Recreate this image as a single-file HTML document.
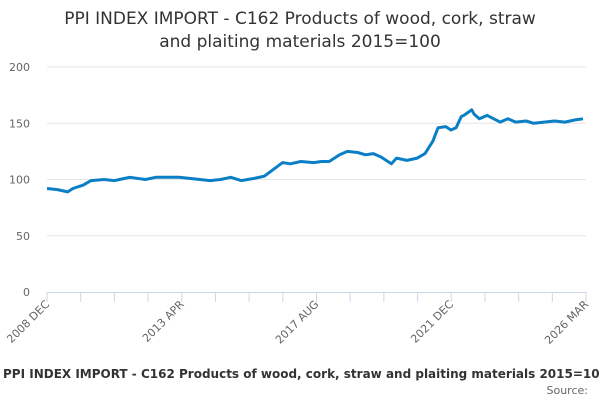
<!DOCTYPE html>
<html><head><meta charset="utf-8"><style>
body{margin:0;background:#fff;}
svg{display:block;font-family:"DejaVu Sans","Liberation Sans",sans-serif;}
</style></head><body>
<svg id="chart" width="600" height="400">
<text x="300" y="24" text-anchor="middle" font-size="17" fill="#333">PPI INDEX IMPORT - C162 Products of wood, cork, straw</text>
<text x="300" y="47" text-anchor="middle" font-size="17" fill="#333">and plaiting materials 2015=100</text>
<g id="grid"></g>
<g id="yaxis"></g>
<g id="xaxis"></g>
<g id="series"></g>
<text x="3" y="378" font-size="12" font-weight="bold" fill="#333">PPI INDEX IMPORT - C162 Products of wood, cork, straw and plaiting materials 2015=100</text>
<text x="588" y="394" text-anchor="end" font-size="11" fill="#666">Source:</text>
</svg>
<script>
const monthIdx=[0,4,8,10,14,17,22,26,32,38,42,47,51,55,59,63,67,71,75,80,84,88,91,94,98,103,106,109,113,116,120,123,126,129,131,133,135,139,143,146,149,151,154,156,158,160,161,164,165,167,170,175,178,181,185,188,192,196,200,204,207];
const values=[92,91,89,92,95,99,100,99,102,100,102,102,102,101,100,99,100,102,99,101,103,110,115,114,116,115,116,116,122,125,124,122,123,120,117,114,119,117,119,123,134,146,147,144,146,156,157,162,158,154,157,151,154,151,152,150,151,152,151,153,154];
const xTickLabels=["2008 DEC","2013 APR","2017 AUG","2021 DEC","2026 MAR"];
const xTickIdx=[0,52,104,156,207];
const yTicks=[0,50,100,150,200];
const X0=47,X1=583,Y0=292,Y1=67,NM=207,YMAX=200;
const xs=i=>X0+(X1-X0)*i/NM;
const ys=v=>Y0-(Y0-Y1)*v/YMAX;
const NS="http://www.w3.org/2000/svg";
function mk(t,a,p){const e=document.createElementNS(NS,t);for(const k in a)e.setAttribute(k,a[k]);p.appendChild(e);return e;}
const grid=document.getElementById('grid'),ya=document.getElementById('yaxis'),xa=document.getElementById('xaxis'),se=document.getElementById('series');
yTicks.forEach(v=>{
 if(v>0){const l=mk('line',{x1:X0,x2:X1+3,y1:ys(v),y2:ys(v),stroke:'#e6e6e6','stroke-width':1},grid);
 
 }
 const t=mk('text',{x:30,y:ys(v)+4,'text-anchor':'end','font-size':11,fill:'#666'},ya);t.textContent=v;
 
 
});
const ax=mk('line',{x1:X0,x2:X1+3,y1:Y0+0.5,y2:Y0+0.5,stroke:'#ccd6eb','stroke-width':1},xa);


for(let k=0;k<=16;k++){const x=X0+(X1+3-X0)*k/16;
 const t=mk('line',{x1:x,x2:x,y1:Y0,y2:Y0+10,stroke:'#ccd6eb'},xa);
 
 }
xTickIdx.forEach((m,i)=>{const x=xs(m)+(m===NM?3:0);
 const t=mk('text',{x:x+3,y:Y0+13,'text-anchor':'end','font-size':11,fill:'#666',transform:`rotate(-45 ${x+3} ${Y0+13})`},xa);
 t.textContent=xTickLabels[i];
 
 });
const d=monthIdx.map((m,i)=>(i?'L':'M')+xs(m).toFixed(1)+' '+ys(values[i]).toFixed(1)).join(' ');
const p=mk('path',{d:d,fill:'none',stroke:'#0a7fc6','stroke-width':3,'stroke-linejoin':'round'},se);


</script>
</body></html>
